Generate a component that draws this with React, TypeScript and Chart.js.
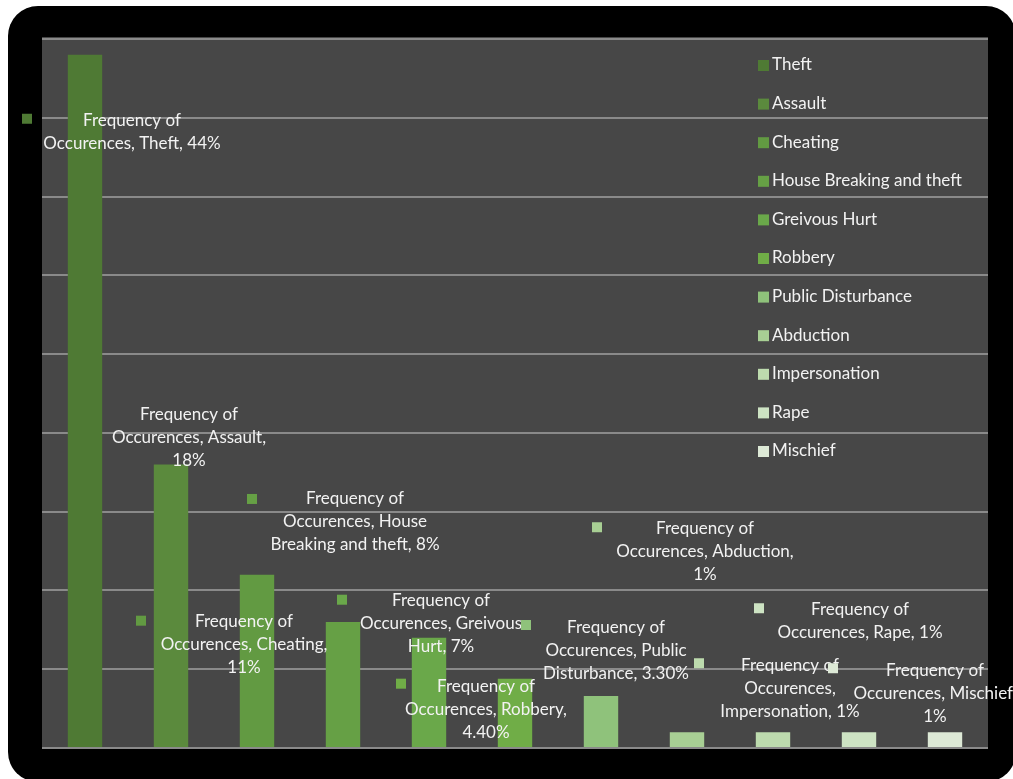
import React, { useEffect, useRef } from "react";
import { Chart, registerables } from "chart.js";

Chart.register(...registerables);

const categories = [
  "Theft",
  "Assault",
  "Cheating",
  "House Breaking and theft",
  "Greivous Hurt",
  "Robbery",
  "Public Disturbance",
  "Abduction",
  "Impersonation",
  "Rape",
  "Mischief",
];

const seriesName = "Frequency of Occurences";
const values = [44, 18, 11, 8, 7, 4.4, 3.3, 1, 1, 1, 1];

const barColors = [
  "#4f7a34",
  "#5b8a3d",
  "#629a42",
  "#66a045",
  "#6aa84a",
  "#70ad47",
  "#8fc27b",
  "#a8cf94",
  "#bddbae",
  "#cde3c3",
  "#dde9d6",
];

// wrapped data label lines (text only)
const labelLines = [
  ["Frequency of", "Occurences, Theft, 44%"],
  ["Frequency of", "Occurences, Assault,", "18%"],
  ["Frequency of", "Occurences, Cheating,", "11%"],
  ["Frequency of", "Occurences, House", "Breaking and theft, 8%"],
  ["Frequency of", "Occurences, Greivous", "Hurt, 7%"],
  ["Frequency of", "Occurences, Robbery,", "4.40%"],
  ["Frequency of", "Occurences, Public", "Disturbance, 3.30%"],
  ["Frequency of", "Occurences, Abduction,", "1%"],
  ["Frequency of", "Occurences,", "Impersonation, 1%"],
  ["Frequency of", "Occurences, Rape, 1%"],
  ["Frequency of", "Occurences, Mischief,", "1%"],
];

// label offsets relative to bar top-center: [dx, dy, markerDx, markerDy, showMarker]
const labelOffsets: [number, number, number, number, boolean][] = [
  [47, 66, -105, -2, true],
  [18, -50, 0, 0, false],
  [-13, 47, -103, -1, true],
  [12, -123, -103, 0, true],
  [12, -37, -99, -1, true],
  [-29, 8, -85, -3, true],
  [15, -68, -90, -3, true],
  [18, -204, -108, -1, true],
  [17, -67, -91, -2, true],
  [1, -123, -101, -1, true],
  [-10, -62, -102, -2, true],
];

const yTicks = { min: 0, max: 45, step: 5 };

const FONT = "Lato, 'Open Sans', sans-serif";
const FONT_SIZE = 17;
const TEXT_COLOR = "#f2f2f2";

const plotBgPlugin = {
  id: "plotBg",
  beforeDraw(chart: any) {
    const { ctx, chartArea } = chart;
    ctx.save();
    ctx.fillStyle = "#474747";
    ctx.fillRect(chartArea.left, chartArea.top - 2, chartArea.right - chartArea.left, chartArea.bottom - chartArea.top + 3);
    ctx.restore();
  },
};

const labelsPlugin = {
  id: "customLabels",
  afterDatasetsDraw(chart: any) {
    const { ctx } = chart;
    const meta = chart.getDatasetMeta(0);
    ctx.save();
    ctx.font = `${FONT_SIZE}px ${FONT}`;
    ctx.textAlign = "center";
    ctx.textBaseline = "middle";
    meta.data.forEach((bar: any, i: number) => {
      const [dx, dy, mdx, mdy, showMarker] = labelOffsets[i];
      const cx = bar.x + dx;
      const cy = bar.y + dy;
      if (showMarker) {
        ctx.fillStyle = barColors[i];
        ctx.fillRect(cx + mdx - 5, cy + mdy - 5, 10, 10);
      }
      ctx.fillStyle = TEXT_COLOR;
      labelLines[i].forEach((line, j) => {
        ctx.fillText(line, cx, cy + j * 23);
      });
    });
    ctx.restore();
  },
};

const legendPlugin = {
  id: "customLegend",
  afterDraw(chart: any) {
    const { ctx, chartArea } = chart;
    ctx.save();
    ctx.font = `${FONT_SIZE}px ${FONT}`;
    ctx.textAlign = "left";
    ctx.textBaseline = "middle";
    const x0 = chartArea.right - 230;
    const y0 = chartArea.top + 26;
    categories.forEach((c, i) => {
      const y = y0 + i * 38.6;
      ctx.fillStyle = barColors[i];
      ctx.fillRect(x0, y - 5, 11, 11);
      ctx.fillStyle = TEXT_COLOR;
      ctx.fillText(c, x0 + 14, y);
    });
    ctx.restore();
  },
};

export default function App() {
  const ref = useRef<HTMLCanvasElement | null>(null);
  useEffect(() => {
    if (!ref.current) return;
    const chart = new Chart(ref.current, {
      type: "bar",
      data: {
        labels: categories,
        datasets: [
          {
            label: seriesName,
            data: values,
            backgroundColor: barColors,
            borderWidth: 0,
            categoryPercentage: 1,
            barPercentage: 0.4,
          },
        ],
      },
      options: {
        responsive: false,
        animation: false,
        layout: { padding: { left: 34, top: 33, right: 28, bottom: 34 } },
        plugins: {
          legend: { display: false },
          tooltip: { enabled: false },
        },
        scales: {
          x: { display: false },
          y: {
            min: yTicks.min,
            max: yTicks.max,
            ticks: { display: false, stepSize: yTicks.step },
            grid: { color: "#8a8a8a", lineWidth: 2, drawTicks: false },
            border: { display: false },
          },
        },
      },
      plugins: [plotBgPlugin, labelsPlugin, legendPlugin],
    });
    return () => chart.destroy();
  }, []);
  return (
    <div
      style={{
        position: "fixed",
        left: 8,
        top: 6,
        width: 1008,
        height: 776,
        background: "#000",
        borderRadius: 30,
        overflow: "hidden",
      }}
    >
      <canvas ref={ref} width={1008} height={776} style={{ display: "block" }} />
    </div>
  );
}
